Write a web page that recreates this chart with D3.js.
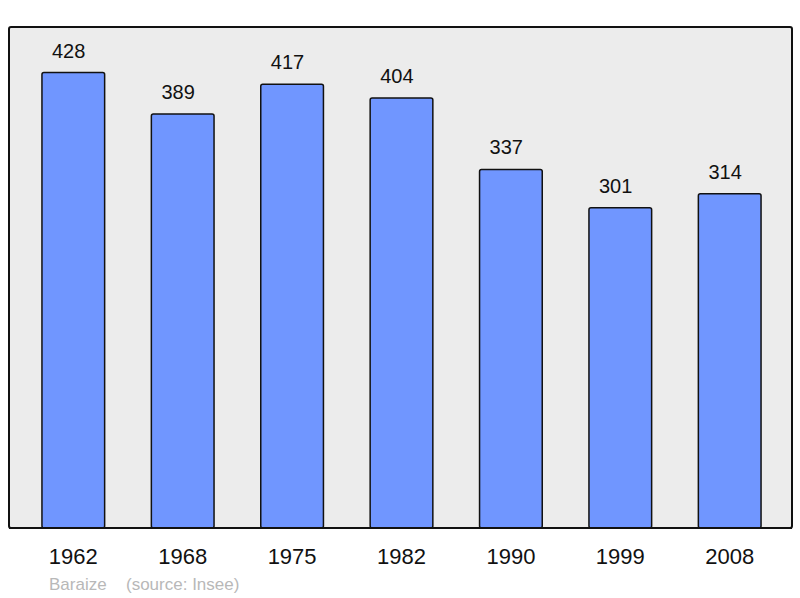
<!DOCTYPE html>
<html><head><meta charset="utf-8">
<script src="https://cdn.jsdelivr.net/npm/d3@7"></script>
<style>body{margin:0;background:#fff}svg{display:block}</style>
</head><body>
<svg id="c" width="800" height="598"></svg>
<script>
const years = ["1962","1968","1975","1982","1990","1999","2008"];
const population = [428,389,417,404,337,301,314];
const commune = "Baraize";
const source = "(source: Insee)";

const svg = d3.select("#c");
const font = "'Liberation Sans', Arial, sans-serif";
const box = {x0: 9, y0: 27, x1: 792, y1: 528};

svg.append("rect").attr("x", box.x0).attr("y", box.y0)
  .attr("width", box.x1 - box.x0).attr("height", box.y1 - box.y0)
  .attr("rx", 2).attr("fill", "#ececec").attr("stroke", "#111").attr("stroke-width", 2);

const x = d3.scaleBand().domain(years).range([18.6, 784.4]).paddingInner(0.427).paddingOuter(0.2135);
const y = d3.scaleLinear().domain([0, d3.max(population) * 1.1]).range([box.y1, box.y0]);

const data = years.map((yr, i) => ({yr, v: population[i]}));

svg.selectAll("rect.bar").data(data).join("rect").attr("class", "bar")
  .attr("x", d => x(d.yr)).attr("y", d => y(d.v))
  .attr("width", x.bandwidth()).attr("height", d => y(0) - y(d.v))
  .attr("rx", 2).attr("fill", "#7096ff").attr("stroke", "#111").attr("stroke-width", 1.5);

svg.append("line").attr("x1", box.x0).attr("x2", box.x1).attr("y1", box.y1).attr("y2", box.y1)
  .attr("stroke", "#111").attr("stroke-width", 2);

svg.selectAll("text.val").data(data).join("text").attr("class", "val")
  .attr("x", d => x(d.yr) + x.bandwidth() / 2 - 4.6).attr("y", d => y(d.v) - 15)
  .attr("text-anchor", "middle").attr("font-family", font).attr("font-size", 20)
  .attr("fill", "#111").text(d => d.v);

const xAxis = d3.axisBottom(x).tickSize(0).tickPadding(0);
const g = svg.append("g").attr("transform", `translate(0,${box.y1})`).call(xAxis);
g.select(".domain").remove();
g.selectAll("text").attr("font-family", font).attr("font-size", 22).attr("fill", "#111")
  .attr("dy", null).attr("y", 36);

svg.append("text").attr("x", 49).attr("y", 590).attr("font-family", font).attr("font-size", 17)
  .attr("fill", "#b8b8b8").text(commune);
svg.append("text").attr("x", 126).attr("y", 590).attr("font-family", font).attr("font-size", 17)
  .attr("fill", "#b8b8b8").text(source);
</script>
</body></html>
